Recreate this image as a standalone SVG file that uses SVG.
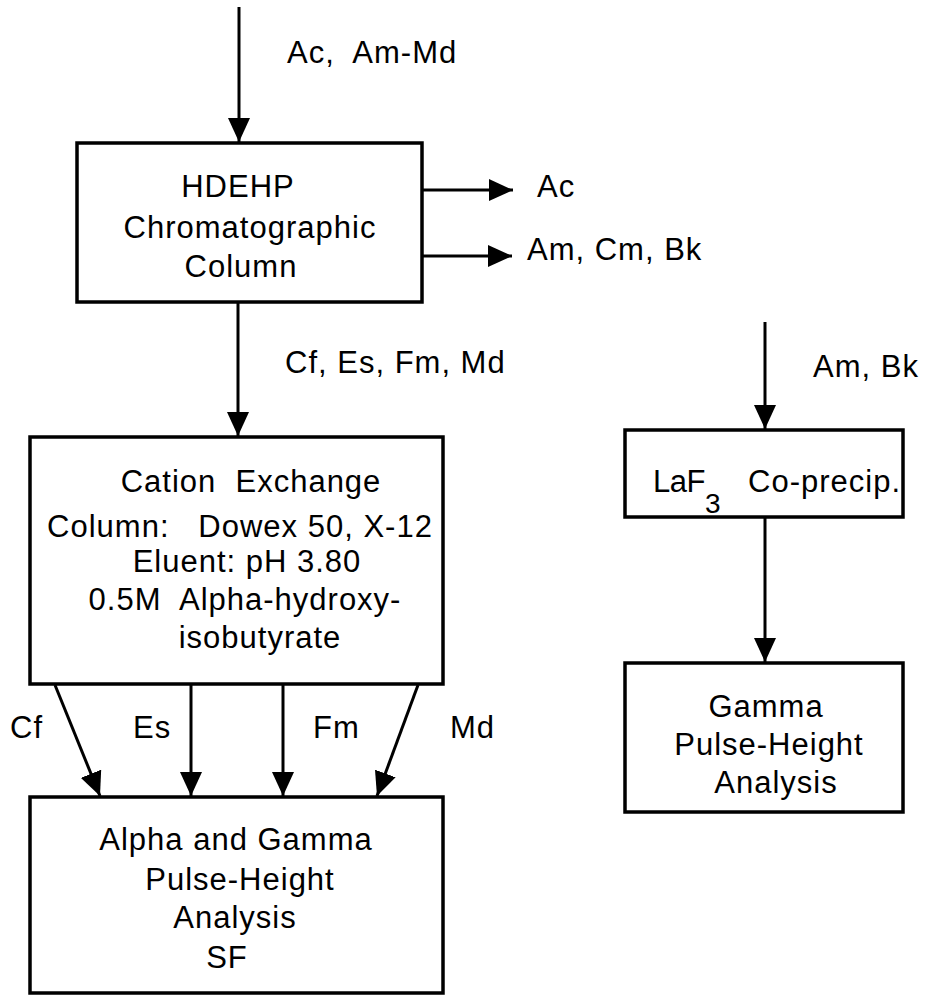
<svg xmlns="http://www.w3.org/2000/svg" width="929" height="998" viewBox="0 0 929 998">
  <style>
    text { font-family: "Liberation Sans", Arial, sans-serif; font-size: 31px; letter-spacing: 1px; fill: #000; white-space: pre; }
    .m { text-anchor: middle; }
    .tight { letter-spacing: -0.5px; }
    .box { fill: #fff; stroke: #000; stroke-width: 3.5; }
    .edge { fill: none; stroke: #000; stroke-width: 3; marker-end: url(#head); }
  </style>
  <defs>
    <marker id="head" markerUnits="userSpaceOnUse" markerWidth="24" markerHeight="22" refX="24" refY="11" orient="auto" viewBox="0 0 24 22">
      <path d="M0,0 L24,11 L0,22 z" fill="#000"/>
    </marker>
  </defs>
  <rect width="929" height="998" fill="#fff"/>

  <g id="connectors">
    <line class="edge" x1="239" y1="7" x2="239" y2="142"/>
    <line class="edge" x1="422" y1="190" x2="513" y2="190"/>
    <line class="edge" x1="422" y1="256" x2="512" y2="256"/>
    <line class="edge" x1="238" y1="302" x2="238" y2="436"/>
    <line class="edge" x1="55" y1="685" x2="100" y2="796"/>
    <line class="edge" x1="191" y1="685" x2="191" y2="796"/>
    <line class="edge" x1="283" y1="685" x2="283" y2="796"/>
    <line class="edge" x1="418" y1="685" x2="377" y2="796"/>
    <line class="edge" x1="765" y1="322" x2="765" y2="429"/>
    <line class="edge" x1="765" y1="517" x2="765" y2="662"/>
  </g>

  <g id="labels">
    <text x="287" y="63">Ac,  Am-Md</text>
    <text x="537" y="197">Ac</text>
    <text x="527" y="260">Am, Cm, Bk</text>
    <text x="285" y="373">Cf, Es, Fm, Md</text>
    <text x="10" y="738">Cf</text>
    <text x="133" y="738">Es</text>
    <text x="313" y="738">Fm</text>
    <text x="450" y="738">Md</text>
    <text x="813" y="377">Am, Bk</text>
  </g>

  <g id="hdehp">
    <rect class="box" x="77" y="143" width="345" height="159"/>
    <text class="m" x="238" y="197">HDEHP</text>
    <text class="m" x="250" y="238">Chromatographic</text>
    <text class="m" x="241" y="277">Column</text>
  </g>

  <g id="cation-exchange">
    <rect class="box" x="30" y="437" width="413" height="247"/>
    <text class="m" x="251" y="492">Cation  Exchange</text>
    <text class="m" x="240" y="537">Column:   Dowex 50, X-12</text>
    <text class="m" x="247" y="572">Eluent: pH 3.80</text>
    <text class="m" x="245" y="610">0.5M  Alpha-hydroxy-</text>
    <text class="m" x="260" y="648">isobutyrate</text>
  </g>

  <g id="alpha-gamma-pha">
    <rect class="box" x="30" y="797" width="413" height="196"/>
    <text class="m" x="236" y="850">Alpha and Gamma</text>
    <text class="m" x="240" y="890">Pulse-Height</text>
    <text class="m" x="235" y="928">Analysis</text>
    <text class="m" x="227" y="968">SF</text>
  </g>

  <g id="laf3-coprecip">
    <rect class="box" x="625" y="430" width="278" height="87"/>
    <text class="tight" x="653" y="492">LaF<tspan dy="21" font-size="28">3</tspan></text>
    <text x="748" y="492">Co-precip.</text>
  </g>

  <g id="gamma-pha">
    <rect class="box" x="625" y="663" width="278" height="149"/>
    <text class="m" x="766" y="717">Gamma</text>
    <text class="m" x="769" y="755">Pulse-Height</text>
    <text class="m" x="776" y="793">Analysis</text>
  </g>
</svg>
